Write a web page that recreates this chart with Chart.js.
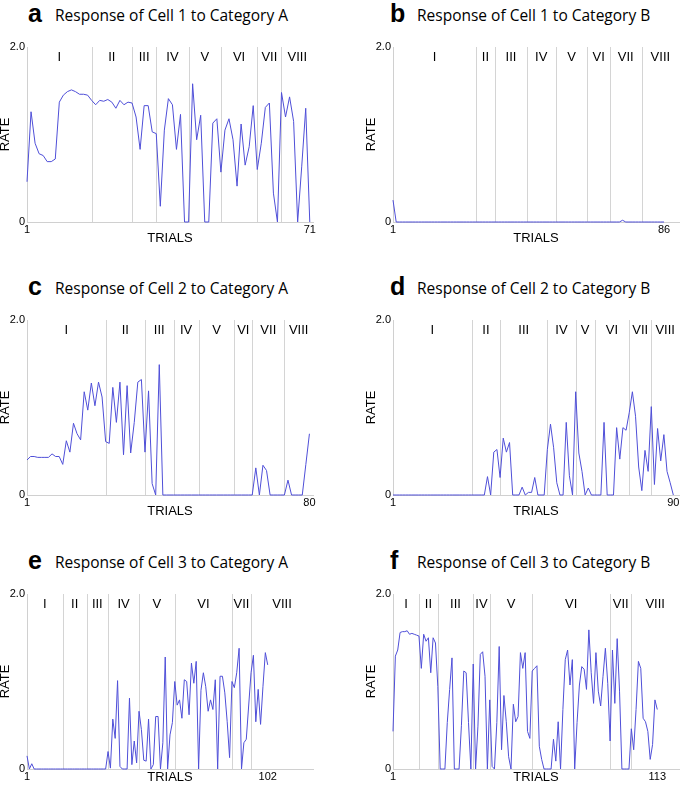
<!DOCTYPE html>
<html>
<head>
<meta charset="utf-8">
<script src="https://cdn.jsdelivr.net/npm/chart.js@4.4.1/dist/chart.umd.min.js"></script>
<style>
  body { margin: 0; width: 681px; height: 791px; overflow: hidden; background: #fff; position: relative; }
  .letter { position: absolute; font-family: "Liberation Sans", Arial, sans-serif; font-size: 25px; font-weight: bold; line-height: 26px; color: #000; }
  .title { position: absolute; font-family: "Open Sans", sans-serif; font-size: 15.5px; line-height: 20px; color: #000; white-space: nowrap; }
  canvas { position: absolute; }
</style>
</head>
<body>
<script>
// rate per trial
const cell1CatA = [
  0.46, 1.26, 0.90, 0.78, 0.76, 0.69, 0.69, 0.72, 1.37, 1.45,
  1.49, 1.51, 1.49, 1.46, 1.46, 1.45, 1.39, 1.34, 1.39, 1.38,
  1.40, 1.37, 1.30, 1.39, 1.34, 1.37, 1.36, 1.20, 0.83, 1.33,
  1.33, 1.03, 1.01, 0.18, 1.05, 1.41, 1.34, 0.83, 1.23, 0,
  0, 1.58, 0.94, 1.22, 0, 0, 1.13, 1.18, 0.57, 1.05,
  1.18, 0.94, 0.41, 1.12, 0.65, 0.86, 1.33, 0.60, 0.90, 1.31,
  1.36, 0.33, 0, 1.48, 1.20, 1.43, 1.15, 0, 0.63, 1.30,
  0
];
const cell1CatB = [
  0.25, 0, 0, 0, 0, 0, 0, 0, 0, 0,
  0, 0, 0, 0, 0, 0, 0, 0, 0, 0,
  0, 0, 0, 0, 0, 0, 0, 0, 0, 0,
  0, 0, 0, 0, 0, 0, 0, 0, 0, 0,
  0, 0, 0, 0, 0, 0, 0, 0, 0, 0,
  0, 0, 0, 0, 0, 0, 0, 0, 0, 0,
  0, 0, 0, 0, 0, 0, 0, 0, 0, 0,
  0, 0, 0.02, 0, 0, 0, 0, 0, 0, 0,
  0, 0, 0, 0, 0, 0
];
const cell2CatA = [
  0.40, 0.44, 0.44, 0.43, 0.43, 0.43, 0.43, 0.47, 0.44, 0.44,
  0.35, 0.62, 0.49, 0.82, 0.70, 0.63, 1.18, 0.97, 1.28, 1.02,
  1.29, 1.12, 0.61, 0.59, 1.23, 0.83, 1.29, 0.46, 1.25, 0.48,
  0.83, 1.29, 1.32, 0.49, 1.19, 0.13, 0, 1.49, 0, 0,
  0, 0, 0, 0, 0, 0, 0, 0, 0, 0,
  0, 0, 0, 0, 0, 0, 0, 0, 0, 0,
  0, 0, 0, 0, 0.31, 0, 0.34, 0.28, 0, 0,
  0, 0, 0, 0.17, 0, 0, 0, 0, 0.35, 0.70
];
const cell2CatB = [
  0, 0, 0, 0, 0, 0, 0, 0, 0, 0,
  0, 0, 0, 0, 0, 0, 0, 0, 0, 0,
  0, 0, 0, 0, 0, 0, 0, 0, 0, 0,
  0.21, 0, 0.49, 0.52, 0.20, 0.65, 0.49, 0.60, 0, 0,
  0, 0.09, 0, 0.03, 0.03, 0.20, 0, 0, 0, 0.52,
  0.81, 0.54, 0.14, 0, 0, 0.83, 0.22, 0, 1.18, 0.48,
  0.27, 0, 0.08, 0, 0, 0, 0, 0.83, 0, 0,
  0, 0.77, 0.41, 0.77, 0.74, 0.94, 1.18, 0.90, 0.32, 0.05,
  0.51, 0.27, 1.01, 0.12, 0.76, 0.39, 0.69, 0.27, 0.14, 0
];
const cell3CatA = [
  0.15, 0, 0.06, 0, 0, 0, 0, 0, 0, 0,
  0, 0, 0, 0, 0, 0, 0, 0, 0, 0,
  0, 0, 0, 0, 0, 0, 0, 0, 0, 0,
  0, 0, 0, 0, 0.20, 0.01, 0.57, 0.35, 1.01, 0.03,
  0, 0, 0, 0.81, 0.05, 0.32, 0.07, 0.66, 0.45, 0.10,
  0.09, 0.57, 0, 0.05, 0.60, 0.60, 0, 0.30, 1.28, 0,
  0.39, 0.53, 1.00, 0.73, 0.79, 0.58, 1.02, 1.00, 0.62, 1.21,
  0.98, 1.23, 0, 0.90, 1.10, 0.94, 0.66, 0.79, 0.68, 1.02,
  0, 1.06, 1.06, 0.87, 0.54, 0.13, 1.00, 0.93, 1.10, 1.38,
  0, 0.30, 0.34, 0.72, 1.10, 1.30, 0.54, 0.91, 0.51, 0.94,
  1.33, 1.19
];
const cell3CatB = [
  0.43, 1.29, 1.36, 1.56, 1.57, 1.57, 1.58, 1.54, 1.55, 1.54,
  1.53, 1.52, 1.15, 1.54, 1.46, 1.50, 1.10, 1.50, 1.44, 0.94,
  0, 0, 0, 0.53, 0.91, 1.27, 0, 0, 0, 0.50,
  1.12, 1.10, 0.53, 0, 1.20, 0, 0.49, 1.31, 1.34, 1.06,
  0, 0.79, 0.03, 0, 0.53, 1.40, 0.22, 0.84, 0.54, 0.14,
  0, 0.74, 0.54, 0.60, 1.33, 1.15, 1.33, 0.43, 0.35, 1.12,
  1.15, 1.18, 0.26, 0.11, 0, 0, 0, 0, 0.34, 0.09,
  0.54, 0, 0.68, 1.25, 1.36, 0.96, 1.25, 0, 0.53, 0.96,
  1.17, 1.14, 0.91, 1.59, 1.10, 0.75, 1.33, 0.89, 0.72, 1.06,
  1.38, 0.98, 0.32, 1.36, 0.75, 1.49, 0.89, 0, 0, 0,
  0, 0.46, 0.22, 0.68, 1.23, 1.15, 0.58, 0.54, 0.43, 0.11,
  0.28, 0.79, 0.68
];

// trial where each new phase starts (II..VIII)
const phaseStarts1A = [17, 27, 33, 41, 49, 58, 64];
const phaseStarts1B = [27, 33, 43, 52, 62, 69, 79];
const phaseStarts2A = [23, 34, 42, 49, 59, 64, 73];
const phaseStarts2B = [26, 35, 50, 59, 65, 76, 83];
const phaseStarts3A = [16, 26, 35, 48, 63, 87, 95];
const phaseStarts3B = [12, 20, 35, 42, 60, 93, 102];

const phaseLabels = ['I', 'II', 'III', 'IV', 'V', 'VI', 'VII', 'VIII'];
const yTickLabels = { 0: '0', 2: '2.0' };

const panels = [
  { letter: 'a', title: 'Response of Cell 1 to Category A', values: cell1CatA, phases: phaseStarts1A, xMax: 71.8, col: 0, row: 0 },
  { letter: 'b', title: 'Response of Cell 1 to Category B', values: cell1CatB, phases: phaseStarts1B, xMax: 90.7, col: 1, row: 0 },
  { letter: 'c', title: 'Response of Cell 2 to Category A', values: cell2CatA, phases: phaseStarts2A, xMax: 81, col: 0, row: 1 },
  { letter: 'd', title: 'Response of Cell 2 to Category B', values: cell2CatB, phases: phaseStarts2B, xMax: 91.8, col: 1, row: 1 },
  { letter: 'e', title: 'Response of Cell 3 to Category A', values: cell3CatA, phases: phaseStarts3A, xMax: 121, col: 0, row: 2 },
  { letter: 'f', title: 'Response of Cell 3 to Category B', values: cell3CatB, phases: phaseStarts3B, xMax: 122.2, col: 1, row: 2 }
];

const rowOffset = [0, 273, 547];
const axisFont = '"Liberation Sans", Arial, sans-serif';

// grey phase dividers + roman numerals along the top
const phasePlugin = {
  id: 'phases',
  beforeDatasetsDraw(chart, args, opts) {
    const { ctx, chartArea: { top, bottom }, scales: { x } } = chart;
    ctx.save();
    ctx.strokeStyle = '#d4d4d4';
    ctx.lineWidth = 1;
    opts.starts.forEach(t => {
      const px = Math.round(x.getPixelForValue(t)) + 0.5;
      ctx.beginPath();
      ctx.moveTo(px, top);
      ctx.lineTo(px, bottom);
      ctx.stroke();
    });
    const edges = [x.min, ...opts.starts, x.max];
    ctx.fillStyle = '#000';
    ctx.font = '13px ' + axisFont;
    ctx.textAlign = 'center';
    ctx.textBaseline = 'middle';
    phaseLabels.forEach((lab, i) => {
      ctx.fillText(lab, x.getPixelForValue((edges[i] + edges[i + 1]) / 2), top + 10);
    });
    ctx.restore();
  }
};

panels.forEach(p => {
  const off = rowOffset[p.row];
  const left = p.col === 0 ? 0 : 366;
  const width = p.col === 0 ? 330 : 315;
  const xAxisH = p.row === 2 ? 16 : 24;
  const height = 10 + 175 + xAxisH;

  const letter = document.createElement('div');
  letter.className = 'letter';
  letter.textContent = p.letter;
  letter.style.left = (p.col === 0 ? 28 : 390) + 'px';
  letter.style.top = (0 + off) + 'px';
  document.body.appendChild(letter);

  const title = document.createElement('div');
  title.className = 'title';
  title.textContent = p.title;
  title.style.left = (p.col === 0 ? 55 : 417) + 'px';
  title.style.top = (5 + off) + 'px';
  document.body.appendChild(title);

  const canvas = document.createElement('canvas');
  canvas.width = width;
  canvas.height = height;
  canvas.style.left = left + 'px';
  canvas.style.top = (37 + off) + 'px';
  document.body.appendChild(canvas);

  const n = p.values.length;
  new Chart(canvas, {
    type: 'line',
    data: {
      datasets: [{
        data: p.values.map((v, i) => ({ x: i + 1, y: v })),
        borderColor: '#4f4fd8',
        borderWidth: 1,
        pointRadius: 0,
        tension: 0,
        clip: false
      }]
    },
    options: {
      responsive: false,
      animation: false,
      layout: { padding: { top: 10, left: 0, right: width - 313, bottom: 0 } },
      plugins: {
        legend: { display: false },
        tooltip: { enabled: false },
        phases: { starts: p.phases }
      },
      scales: {
        x: {
          type: 'linear',
          min: 1,
          max: p.xMax,
          grid: { display: false, drawTicks: false },
          border: { display: true, color: '#d0d0d0' },
          afterBuildTicks: s => { s.ticks = [{ value: 1 }, { value: n }]; },
          afterFit: s => { s.height = xAxisH; s.paddingLeft = 0; s.paddingRight = 0; },
          ticks: {
            autoSkip: false,
            maxRotation: 0,
            padding: 1,
            color: '#000',
            font: { family: axisFont, size: 11 },
            callback: v => String(v)
          },
          title: {
            display: true,
            text: 'TRIALS',
            color: '#000',
            padding: 0,
            font: { family: axisFont, size: 13, lineHeight: 1.2 }
          }
        },
        y: {
          min: 0,
          max: 2,
          grid: { display: false, drawTicks: false },
          border: { display: true, color: '#d0d0d0' },
          afterBuildTicks: s => { s.ticks = [{ value: 0 }, { value: 2 }]; },
          afterFit: s => { s.width = 27; s.paddingTop = 0; s.paddingBottom = 0; },
          ticks: {
            padding: 2,
            color: '#000',
            font: { family: axisFont, size: 11 },
            callback: v => yTickLabels[v]
          },
          title: {
            display: true,
            text: 'RATE',
            color: '#000',
            padding: 0,
            font: { family: axisFont, size: 13, lineHeight: 0.85 }
          }
        }
      }
    },
    plugins: [phasePlugin]
  });
});
</script>
</body>
</html>
